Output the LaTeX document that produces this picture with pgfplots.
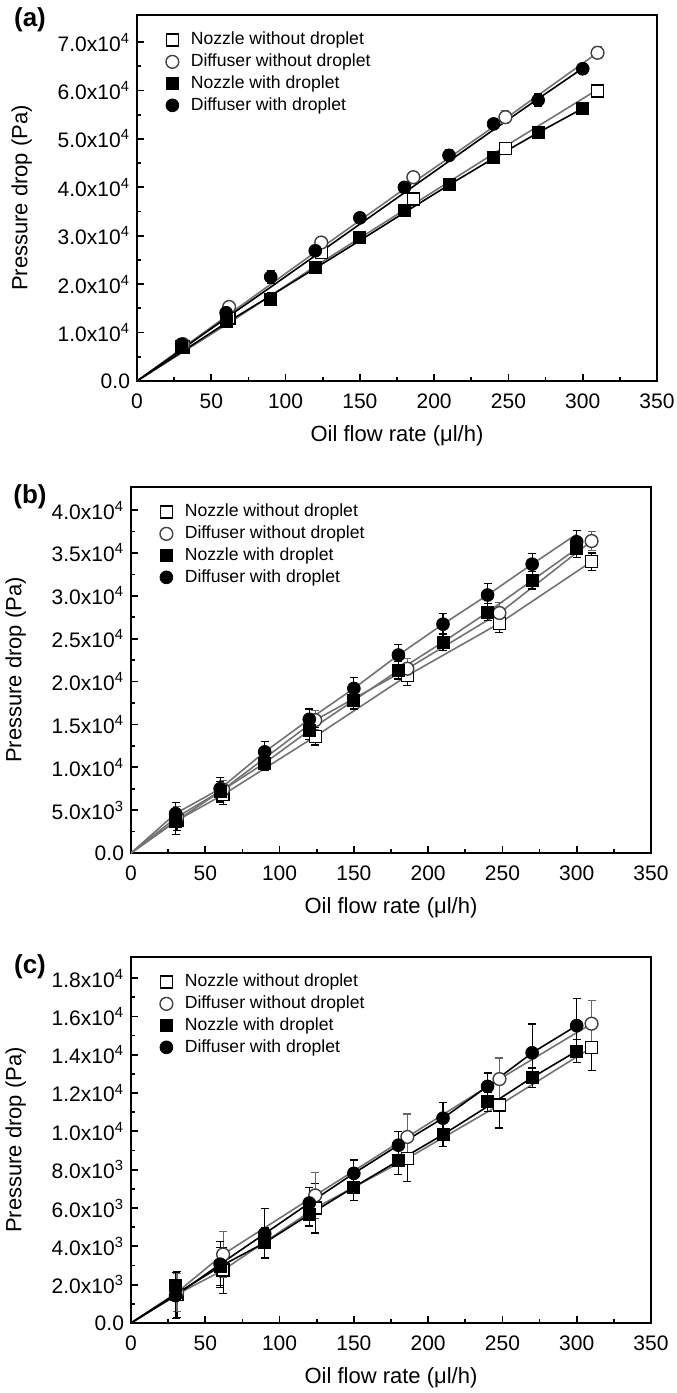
\documentclass[border=0pt]{standalone}
\usepackage{fontspec}
\setmainfont{Liberation Sans}
\usepackage{pgfplots}
\pgfplotsset{compat=1.18}

\newcommand{\E}[1]{x10\textsuperscript{#1}}

\pgfplotsset{
  panel/.style={
    scale only axis, width=260pt, height=183pt,
    xmin=0, xmax=350, ymin=0,
    xtick={0,50,...,350}, minor x tick num=1, minor y tick num=1,
    tick align=inside, tick pos=left,
    major tick length=3.5pt, minor tick length=2pt,
    every tick/.append style={black, line width=0.9pt},
    axis line style={line width=1.1pt},
    tick label style={font=\fontsize{10.5}{12}\selectfont},
    label style={font=\fontsize{11}{13}\selectfont},
    xticklabel shift=3pt, xlabel shift=1.5pt, ylabel shift=6pt,
    /pgf/number format/assume math mode=true,
    scaled y ticks=false,
    xlabel={Oil flow rate (μl/h)},
    ylabel={Pressure drop (Pa)},
    legend style={draw=none, fill=none, at={(0.055,0.965)}, anchor=north west,
      font=\fontsize{8.8}{10}\selectfont, row sep=-1pt, column sep=4pt, inner sep=0pt},
    legend cell align=left,
  },
  eb/.style={error bars/.cd, y dir=both, y explicit,
    error bar style={line width=0.6pt, #1},
    error mark options={rotate=90, mark size=2pt, line width=0.6pt, #1}},
  osq/.style={only marks, mark=square*, mark size=3pt,
    mark options={fill=white, draw=black, line width=0.7pt}, eb=black},
  oci/.style={only marks, mark=*, mark size=3.2pt,
    mark options={fill=white, draw=black!75, line width=0.7pt}, eb=black!60},
  fsq/.style={only marks, mark=square*, mark size=3pt,
    mark options={fill=black, draw=black}, eb=black},
  fci/.style={only marks, mark=*, mark size=3.2pt,
    mark options={fill=black, draw=black}, eb=black},
  gline/.style={forget plot, no marks, line width=0.8pt, black!55},
  bline/.style={forget plot, no marks, line width=0.8pt, black},
}

\begin{document}
\begin{tikzpicture}
\path[use as bounding box] (0,0) rectangle (338pt,-696.5pt);

% ---------- (a)
\node[font=\bfseries\fontsize{13}{14}\selectfont] at (15pt,-10pt) {(a)};
\begin{axis}[panel, at={(68.5pt,-7.5pt)}, anchor=north west,
  ymax=75600, ytick={0,10000,...,70000},
  yticklabels={0.0,1.0\E4,2.0\E4,3.0\E4,4.0\E4,5.0\E4,6.0\E4,7.0\E4}]
\addplot[gline] coordinates {(0,0) (31,6000) (62,12000) (124,24500) (186,36500) (248,48500) (310,60200)};
\addplot[gline] coordinates {(0,0) (62,13800) (124,27500) (186,41000) (248,54200) (310,67800)};
\addplot[bline] coordinates {(0,0) (30,6000) (60,12000) (90,17600) (120,23300) (150,29000) (180,34800) (210,40500) (240,46000) (270,51300) (300,56300)};
\addplot[bline] coordinates {(0,0) (30,6500) (60,13000) (90,19400) (120,25900) (150,32400) (180,38900) (210,45400) (240,51900) (270,58300) (300,64600)};
\addplot[osq] table[x=x, y=y, y error=e] {
x y e
31 7000 800
62 13000 900
124 26600 1000
186 37600 1000
248 48000 1000
310 59900 1000
};
\addplot[oci] table[x=x, y=y, y error=e] {
x y e
31 7600 800
62 15300 1000
124 28600 1000
186 42100 1000
248 54500 1300
310 67800 1200
};
\addplot[fsq] table[x=x, y=y, y error=e] {
x y e
30 7200 800
60 12400 800
90 16900 1300
120 23500 900
150 29700 900
180 35300 900
210 40700 1000
240 46200 900
270 51400 1000
300 56300 1000
};
\addplot[fci] table[x=x, y=y, y error=e] {
x y e
30 7600 800
60 14100 900
90 21500 1300
120 26900 1000
150 33700 1000
180 40000 1000
210 46600 1100
240 53100 1000
270 58000 1300
300 64500 1000
};
\legend{Nozzle without droplet, Diffuser without droplet, Nozzle with droplet, Diffuser with droplet}
\end{axis}

% ---------- (b)
\node[font=\bfseries\fontsize{13}{14}\selectfont] at (15pt,-248.5pt) {(b)};
\begin{axis}[panel, at={(65.5pt,-243.5pt)}, anchor=north west,
  ymax=42700, ytick={0,5000,...,40000},
  yticklabels={0.0,5.0\E3,1.0\E4,1.5\E4,2.0\E4,2.5\E4,3.0\E4,3.5\E4,4.0\E4}]
\addplot[gline] coordinates {(0,0) (31,3800) (62,6800) (124,13600) (186,20700) (248,26800) (310,34000)};
\addplot[gline] coordinates {(0,0) (31,4200) (62,7400) (124,15500) (186,21500) (248,28000) (310,36400)};
\addplot[gline] coordinates {(0,0) (30,3700) (60,7150) (90,10500) (120,14300) (150,17800) (180,21300) (210,24600) (240,28100) (270,31800) (300,35500)};
\addplot[gline] coordinates {(0,0) (30,4600) (60,7500) (90,11800) (120,15600) (150,19200) (180,23100) (210,26700) (240,30100) (270,33700) (300,37200)};
\addplot[osq] table[x=x, y=y, y error=e] {
x y e
31 3800 1200
62 6800 1100
124 13600 1000
186 20700 1200
248 26800 1100
310 34000 1000
};
\addplot[oci] table[x=x, y=y, y error=e] {
x y e
31 4200 1200
62 7400 1100
124 15500 1100
186 21500 1200
248 28000 1200
310 36400 1100
};
\addplot[fsq] table[x=x, y=y, y error=e] {
x y e
30 3700 1500
60 7150 1200
90 10500 900
120 14300 1100
150 17800 1000
180 21300 1000
210 24600 1000
240 28100 1000
270 31800 1000
300 35500 1000
};
\addplot[fci] table[x=x, y=y, y error=e] {
x y e
30 4600 1300
60 7500 1300
90 11800 1200
120 15600 1200
150 19200 1300
180 23100 1200
210 26700 1200
240 30100 1300
270 33700 1200
300 36300 1300
};
\legend{Nozzle without droplet, Diffuser without droplet, Nozzle with droplet, Diffuser with droplet}
\end{axis}

% ---------- (c)
\node[font=\bfseries\fontsize{13}{14}\selectfont] at (15pt,-483.5pt) {(c)};
\begin{axis}[panel, at={(65.5pt,-478.5pt)}, anchor=north west,
  ymax=19100, ytick={0,2000,...,18000},
  yticklabels={0.0,2.0\E3,4.0\E3,6.0\E3,8.0\E3,1.0\E4,1.2\E4,1.4\E4,1.6\E4,1.8\E4}]
\addplot[gline] coordinates {(0,0) (31,1500) (62,2760) (124,6000) (186,8590) (248,11380) (310,14370)};
\addplot[gline] coordinates {(0,0) (31,1600) (62,3580) (124,6660) (186,9710) (248,12730) (310,15620)};
\addplot[bline] coordinates {(0,0) (30,1500) (60,2950) (90,4190) (120,5660) (150,7090) (180,8470) (210,9830) (240,11300) (270,12810) (300,14190)};
\addplot[bline] coordinates {(0,0) (30,1430) (60,3070) (90,4660) (120,6260) (150,7810) (180,9280) (210,10690) (240,12350) (270,14100) (300,15520)};
\addplot[osq] table[x=x, y=y, y error=e] {
x y e
31 1500 1200
62 2760 1200
124 6000 1300
186 8590 1200
248 11380 1200
310 14370 1200
};
\addplot[oci] table[x=x, y=y, y error=e] {
x y e
31 1600 1000
62 3580 1200
124 6660 1200
186 9710 1200
248 12730 1100
310 15620 1200
};
\addplot[fsq] table[x=x, y=y, y error=e] {
x y e
30 1950 700
60 2950 1000
90 4190 800
120 5660 600
150 7090 700
180 8470 700
210 9830 600
240 11550 500
270 12810 500
300 14190 600
};
\addplot[fci] table[x=x, y=y, y error=e] {
x y e
30 1430 1200
60 3070 1200
90 4660 1300
120 6260 800
150 7810 700
180 9280 700
210 10690 800
240 12350 700
270 14100 1500
300 15520 1400
};
\legend{Nozzle without droplet, Diffuser without droplet, Nozzle with droplet, Diffuser with droplet}
\end{axis}
\end{tikzpicture}
\end{document}
